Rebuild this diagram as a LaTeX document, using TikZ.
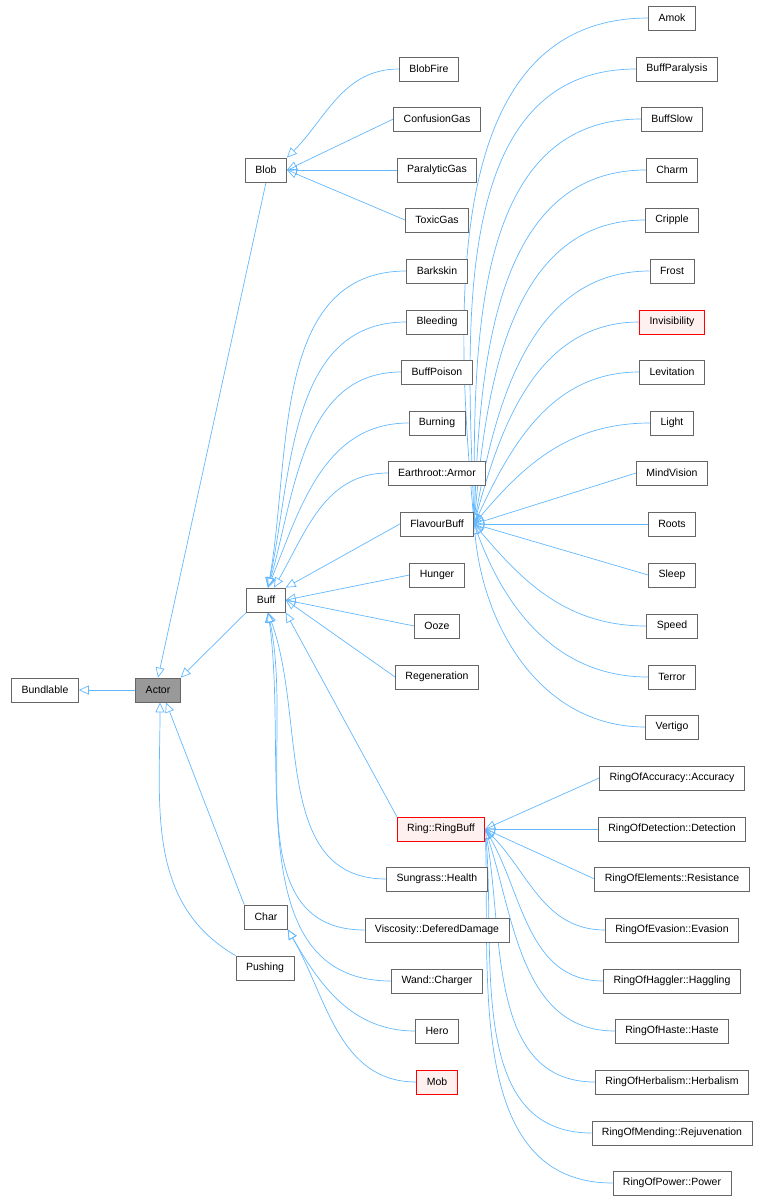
\documentclass[tikz,border=0pt]{standalone}
\usepackage{fontspec}
\setmainfont{Liberation Sans}
\usetikzlibrary{arrows.meta,backgrounds}
\definecolor{edgeblue}{HTML}{63B8FF}
\definecolor{boxgray}{HTML}{666666}
\tikzset{
  cls/.style={draw=boxgray, fill=white, line width=0.8pt, minimum height=24pt,
    inner xsep=10pt, inner ysep=0pt, font=\fontsize{10.5}{12}\selectfont},
  redcls/.style={cls, draw=red, fill=red!6},
  curcls/.style={cls, fill=black!40},
  edge/.style={draw=edgeblue, line width=0.7pt, -{Triangle[open,length=10pt,width=9pt]}}
}
\begin{document}
\begin{tikzpicture}[x=1pt,y=-1pt]
  \useasboundingbox (0,0) rectangle (775,1203);
  % base classes
  \node[cls] (bundlable) at (45,690) {Bundlable};
  \node[curcls] (actor) at (158,690) {Actor};
  \node[cls] (blob) at (266,170) {Blob};
  \node[cls] (buff) at (266,600) {Buff};
  \node[cls] (char) at (266,917) {Char};
  \node[cls] (pushing) at (265,968) {Pushing};
  % middle column
  \node[cls] (blobfire) at (429,69) {BlobFire};
  \node[cls] (confusion) at (437,119) {ConfusionGas};
  \node[cls] (paralytic) at (437,170) {ParalyticGas};
  \node[cls] (toxic) at (437,220) {ToxicGas};
  \node[cls] (barkskin) at (437,271) {Barkskin};
  \node[cls] (bleeding) at (437,322) {Bleeding};
  \node[cls] (buffpoison) at (437,372) {BuffPoison};
  \node[cls] (burning) at (437,423) {Burning};
  \node[cls] (armor) at (437,473) {Earthroot::Armor};
  \node[cls] (flavour) at (437,524) {FlavourBuff};
  \node[cls] (hunger) at (437,575) {Hunger};
  \node[cls] (ooze) at (437,626) {Ooze};
  \node[cls] (regen) at (437,677) {Regeneration};
  \node[redcls] (ringbuff) at (441,829) {Ring::RingBuff};
  \node[cls] (health) at (437,879) {Sungrass::Health};
  \node[cls] (defered) at (437,930) {Viscosity::DeferedDamage};
  \node[cls] (charger) at (437,981) {Wand::Charger};
  \node[cls] (hero) at (437,1031) {Hero};
  \node[redcls] (mob) at (437,1082) {Mob};
  % flavour buffs
  \node[cls] (amok) at (672,18) {Amok};
  \node[cls] (paralysis) at (677,69) {BuffParalysis};
  \node[cls] (slow) at (672,119) {BuffSlow};
  \node[cls] (charm) at (672,170) {Charm};
  \node[cls] (cripple) at (672,220) {Cripple};
  \node[cls] (frost) at (672,271) {Frost};
  \node[redcls] (invis) at (672,322) {Invisibility};
  \node[cls] (levit) at (672,372) {Levitation};
  \node[cls] (light) at (672,423) {Light};
  \node[cls] (mind) at (672,473) {MindVision};
  \node[cls] (roots) at (672,524) {Roots};
  \node[cls] (sleep) at (672,575) {Sleep};
  \node[cls] (speed) at (672,626) {Speed};
  \node[cls] (terror) at (672,677) {Terror};
  \node[cls] (vertigo) at (672,727) {Vertigo};
  % ring buffs
  \node[cls] (accuracy) at (672,778) {RingOfAccuracy::Accuracy};
  \node[cls] (detection) at (672,829) {RingOfDetection::Detection};
  \node[cls] (resist) at (672,879) {RingOfElements::Resistance};
  \node[cls] (evasion) at (672,930) {RingOfEvasion::Evasion};
  \node[cls] (haggling) at (672,981) {RingOfHaggler::Haggling};
  \node[cls] (haste) at (672,1031) {RingOfHaste::Haste};
  \node[cls] (herbal) at (672,1082) {RingOfHerbalism::Herbalism};
  \node[cls] (rejuv) at (672,1133) {RingOfMending::Rejuvenation};
  \node[cls] (power) at (672,1183) {RingOfPower::Power};

  % inheritance edges
  \begin{scope}[on background layer]
  \draw[edge] (actor) -- (bundlable);
  \draw[edge] (blob.south) -- (actor.north);
  \draw[edge] (buff.south west) -- (actor.north east);
  \draw[edge] (char.north west) -- ([xshift=8pt]actor.south);
  \draw[edge] (pushing.north west) to[out=150,in=-90] ([xshift=2pt]actor.south);
  \draw[edge] (blobfire.west) to[out=180,in=45] (blob.north east);
  \foreach \c in {confusion,paralytic,toxic}
    \draw[edge] (\c.west) -- (blob.east);
  \foreach \c/\a in {barkskin/80,bleeding/78,buffpoison/74,burning/68}
    \draw[edge] (\c.west) to[out=180,in=\a] ([xshift=2pt]buff.north);
  \draw[edge] (armor.west) to[out=180,in=60] ([xshift=8pt]buff.north);
  \draw[edge] (flavour.west) -- (buff.north east);
  \foreach \c in {hunger,ooze,regen}
    \draw[edge] (\c.west) -- (buff.east);
  \draw[edge] (ringbuff.north west) -- (buff.south east);
  \foreach \c/\a in {health/-70,defered/-78,charger/-82}
    \draw[edge] (\c.west) to[out=180,in=\a] ([xshift=2pt]buff.south);
  \foreach \c in {hero,mob}
    \draw[edge] (\c.west) to[out=180,in=-60] (char.south east);
  \foreach \c/\a in {amok/95,paralysis/92,slow/90,charm/88,cripple/85,frost/80,invis/75,levit/65,light/50}
    \draw[edge] (\c.west) to[out=180,in=\a] (flavour.east);
  \foreach \c in {mind,roots,sleep}
    \draw[edge] (\c.west) -- (flavour.east);
  \foreach \c/\a in {speed/-50,terror/-70,vertigo/-85}
    \draw[edge] (\c.west) to[out=180,in=\a] (flavour.east);
  \foreach \c in {accuracy,detection,resist}
    \draw[edge] (\c.west) -- (ringbuff.east);
  \foreach \c/\a in {evasion/-45,haggling/-60,haste/-72,herbal/-80,rejuv/-85,power/-88}
    \draw[edge] (\c.west) to[out=180,in=\a] (ringbuff.east);
  \end{scope}
\end{tikzpicture}
\end{document}
